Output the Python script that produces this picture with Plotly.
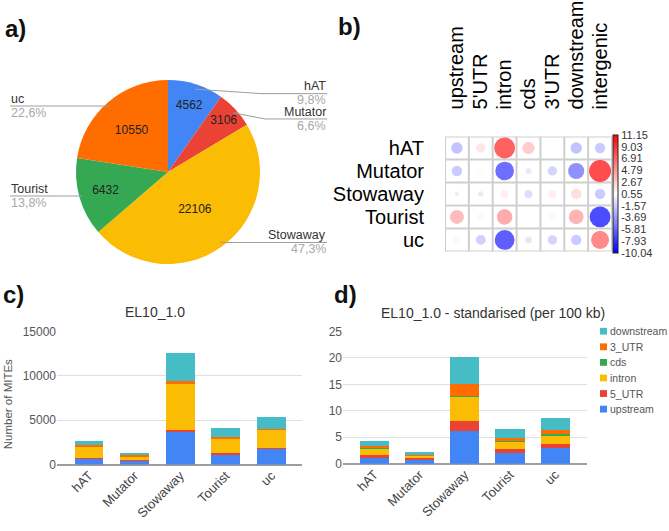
import numpy as np
import plotly.graph_objects as go

W, H = 669, 531
FONT = "Liberation Sans, Arial, sans-serif"


def fx(x):
    return x / W


def fy(y):
    return 1 - y / H


# ---------------- data ----------------
families = ["hAT", "Mutator", "Stowaway", "Tourist", "uc"]
pie_counts = [4562, 3106, 22106, 6432, 10550]
pie_colors = ["#4285F4", "#EA4335", "#FBBC04", "#34A853", "#FF6D01"]

regions = ["upstream", "5'UTR", "intron", "cds", "3'UTR", "downstream", "intergenic"]
cor_hAT = [-3.0, 2.0, 10.0, 3.5, 0.0, -3.0, -2.5]
cor_Mutator = [-2.5, 0.8, -8.0, -0.8, -2.0, -6.0, 11.15]
cor_Stowaway = [-0.5, -0.7, 1.5, -1.5, 1.5, 2.5, -2.5]
cor_Tourist = [4.5, 1.0, 5.5, 0.5, 1.0, 5.0, -10.04]
cor_uc = [1.0, -2.2, -9.0, -1.0, -2.0, -2.5, 7.5]
cor_rows = [cor_hAT, cor_Mutator, cor_Stowaway, cor_Tourist, cor_uc]
cbar_ticktext = ["-10.04", "-7.93", "-5.81", "-3.69", "-1.57", "0.55",
                 "2.67", "4.79", "6.91", "9.03", "11.15"]

bar_series = ["upstream", "5_UTR", "intron", "cds", "3_UTR", "downstream"]
bar_colors = ["#4285F4", "#EA4335", "#FBBC04", "#34A853", "#FF6D01", "#46BDC6"]
# panel c: number of MITEs
c_upstream = [700, 520, 3800, 1220, 1820]
c_5utr = [40, 30, 80, 40, 60]
c_intron = [1350, 420, 5300, 1760, 2080]
c_cds = [20, 10, 30, 10, 20]
c_3utr = [80, 50, 200, 60, 60]
c_downstream = [470, 320, 3130, 990, 1300]
# panel d: standardised per 100 kb
d_upstream = [1.15, 0.9, 6.1, 2.1, 3.05]
d_5utr = [0.5, 0.25, 2.0, 0.65, 0.75]
d_intron = [1.25, 0.5, 4.6, 1.5, 1.7]
d_cds = [0.05, 0.03, 0.1, 0.05, 0.05]
d_3utr = [0.4, 0.2, 2.35, 0.6, 0.8]
d_downstream = [1.0, 0.35, 5.1, 1.65, 2.3]

c_ticks = [0, 5000, 10000, 15000]
d_ticks = [0, 5, 10, 15, 20, 25]

fig = go.Figure()

# ---------------- a) pie ----------------
pcx, pcy, pr = 168, 169.5, 94.5
fig.add_trace(go.Pie(
    labels=families, values=pie_counts, sort=False, direction="clockwise",
    marker=dict(colors=pie_colors, line=dict(width=0)),
    text=[str(v) for v in pie_counts], textinfo="text",
    textposition="inside", insidetextorientation="horizontal",
    textfont=dict(size=12, color="#222", family=FONT),
    domain=dict(x=[fx(pcx - pr), fx(pcx + pr)], y=[fy(pcy + pr), fy(pcy - pr)]),
    showlegend=False, hoverinfo="label+value+percent",
))

total = sum(pie_counts)
cum = np.cumsum([0] + pie_counts)
label_geom = {  # side, label-line y, elbow x
    "hAT": ("right", 89, 262),
    "Mutator": ("right", 115, 265),
    "Stowaway": ("right", None, None),
    "Tourist": ("left", None, None),
    "uc": ("left", None, None),
}
shapes = []
annotations = []
for i, fam in enumerate(families):
    mid = (cum[i] + cum[i + 1]) / 2 / total * 2 * np.pi
    sx = pcx + 0.945 * pr * np.sin(mid)
    sy = pcy - 0.945 * pr * np.cos(mid)
    side, ly, ex = label_geom[fam]
    if ly is None:
        ly = sy
        ex = sx
    endx = 327 if side == "right" else 10
    path = f"M {fx(sx)} {fy(sy)} L {fx(ex)} {fy(ly)} L {fx(endx)} {fy(ly)}"
    shapes.append(dict(type="path", path=path, xref="paper", yref="paper",
                       line=dict(color="#9e9e9e", width=1)))
    anc = "right" if side == "right" else "left"
    pct = f"{100 * pie_counts[i] / total:.1f}%".replace(".", ",")
    annotations.append(dict(text=fam, x=fx(endx), y=fy(ly - 7.5), xref="paper", yref="paper",
                            xanchor=anc, yanchor="middle", showarrow=False, borderpad=0,
                            font=dict(size=12.5, color="#333", family=FONT)))
    annotations.append(dict(text=pct, x=fx(endx), y=fy(ly + 7), xref="paper", yref="paper",
                            xanchor=anc, yanchor="middle", showarrow=False, borderpad=0,
                            font=dict(size=12.5, color="#a8a8a8", family=FONT)))

# ---------------- b) correlation plot ----------------
cmin, cmax = -10.04, 11.15
vmax = max(abs(cmin), abs(cmax))
xs, ys, vs = [], [], []
for j, (fam, row) in enumerate(zip(families, cor_rows)):
    for k, (reg, v) in enumerate(zip(regions, row)):
        xs.append(k)
        ys.append(j)
        vs.append(v)
vs = np.array(vs)
sizes = 22 * np.sqrt(np.abs(vs) / vmax)
fig.add_trace(go.Scatter(
    x=xs, y=ys, mode="markers", xaxis="x2", yaxis="y2", showlegend=False,
    marker=dict(size=sizes, color=vs, cmin=cmin, cmax=cmax,
                colorscale=[[0, "#0000FF"], [0.5, "#FFFFFF"], [1, "#FF0000"]],
                line=dict(width=0),
                colorbar=dict(thickness=5, len=118, lenmode="pixels",
                              x=fx(613), xanchor="left", xpad=0,
                              y=fy(192), yanchor="middle", ypad=0,
                              outlinecolor="#222", outlinewidth=1,
                              tickvals=np.linspace(cmin, cmax, 11), ticktext=cbar_ticktext,
                              ticks="", tickfont=dict(size=11, color="#333", family=FONT))),
))
nx, ny = len(regions), len(families)
for k in range(nx + 1):
    shapes.append(dict(type="line", xref="x2", yref="y2", x0=k - 0.5, x1=k - 0.5,
                       y0=-0.5, y1=ny - 0.5, line=dict(color="#cfcfcf", width=2), layer="below"))
for k in range(ny + 1):
    shapes.append(dict(type="line", xref="x2", yref="y2", x0=-0.5, x1=nx - 0.5,
                       y0=k - 0.5, y1=k - 0.5, line=dict(color="#cfcfcf", width=2), layer="below"))

# ---------------- c) & d) stacked bars ----------------
c_vals = [c_upstream, c_5utr, c_intron, c_cds, c_3utr, c_downstream]
d_vals = [d_upstream, d_5utr, d_intron, d_cds, d_3utr, d_downstream]
for name, col, vals in zip(bar_series, bar_colors, c_vals):
    fig.add_trace(go.Bar(x=families, y=vals, name=name, marker=dict(color=col, line=dict(width=0)),
                         width=0.63, xaxis="x3", yaxis="y3", showlegend=False))
for name, col, vals in zip(bar_series, bar_colors, d_vals):
    fig.add_trace(go.Bar(x=families, y=vals, name=name, marker=dict(color=col, line=dict(width=0)),
                         width=0.65, xaxis="x4", yaxis="y4", showlegend=False))

# legend for d (drawn compactly, reversed order like the original)
for k, (name, col) in enumerate(reversed(list(zip(bar_series, bar_colors)))):
    yy = 333 + 16 * k
    shapes.append(dict(type="rect", xref="paper", yref="paper", x0=fx(600), x1=fx(607),
                       y0=fy(yy + 3.5), y1=fy(yy - 3.5), fillcolor=col, line=dict(width=0)))
    annotations.append(dict(text=name, x=fx(609), y=fy(yy), xref="paper", yref="paper",
                            xanchor="left", yanchor="middle", showarrow=False, borderpad=0,
                            font=dict(size=10.5, color="#555", family=FONT)))

annotations += [
    dict(text="EL10_1.0", x=fx(155), y=fy(313), xref="paper", yref="paper", xanchor="center",
         yanchor="middle", showarrow=False, font=dict(size=14, color="#333", family=FONT)),
    dict(text="EL10_1.0 - standarised (per 100 kb)", x=fx(493), y=fy(314), xref="paper",
         yref="paper", xanchor="center", yanchor="middle", showarrow=False,
         font=dict(size=14, color="#333", family=FONT)),
    dict(text="Number of MITEs", x=fx(8), y=fy(408), xref="paper", yref="paper", textangle=-90,
         xanchor="center", yanchor="middle", showarrow=False,
         font=dict(size=11.5, color="#555", family=FONT)),
]
for lab, x, y in [("a)", 3, 6), ("b)", 336, 4), ("c)", 1, 279), ("d)", 332, 279)]:
    annotations.append(dict(text=f"<b>{lab}</b>", x=fx(x), y=fy(y), xref="paper", yref="paper",
                            xanchor="left", yanchor="top", showarrow=False,
                            font=dict(size=24, color="#111", family=FONT)))

bar_x_common = dict(type="category", showgrid=False, ticks="", tickangle=-45,
                    tickfont=dict(size=13, color="#444", family=FONT),
                    showline=False, zeroline=False)
bar_y_common = dict(showgrid=True, gridcolor="#e0e0e0", gridwidth=1, zeroline=True,
                    zerolinecolor="#9e9e9e", zerolinewidth=1.5, ticks="", tickformat="d",
                    tickfont=dict(size=12, color="#555", family=FONT), showline=False)

fig.update_layout(
    width=W, height=H, autosize=False,
    margin=dict(l=0, r=0, t=0, b=0),
    paper_bgcolor="white", plot_bgcolor="white",
    font=dict(family=FONT),
    barmode="stack", showlegend=False,
    shapes=shapes, annotations=annotations,
    uniformtext=dict(minsize=12, mode="show"),
    xaxis2=dict(domain=[fx(445), fx(612)], range=[-0.5, nx - 0.5], side="top", tickangle=-90,
                tickmode="array", tickvals=list(range(nx)), ticktext=regions,
                showgrid=False, zeroline=False,
                ticks="outside", ticklen=22, tickcolor="rgba(0,0,0,0)",
                tickfont=dict(size=20, color="#000", family=FONT), anchor="y2"),
    yaxis2=dict(domain=[fy(251), fy(133)], range=[ny - 0.5, -0.5],
                tickmode="array", tickvals=list(range(ny)), ticktext=families,
                showgrid=False, zeroline=False,
                ticks="outside", ticklen=16, tickcolor="rgba(0,0,0,0)",
                tickfont=dict(size=20, color="#000", family=FONT), anchor="x2"),
    xaxis3=dict(domain=[fx(57), fx(302)], range=[-0.70, 4.67], anchor="y3", **bar_x_common),
    yaxis3=dict(domain=[fy(470), fy(333.3)], range=[0, 15000], tickvals=c_ticks, anchor="x3",
                **bar_y_common),
    xaxis4=dict(domain=[fx(343), fx(587)], range=[-0.69, 4.70], anchor="y4", **bar_x_common),
    yaxis4=dict(domain=[fy(469), fy(333.3)], range=[0, 25], tickvals=d_ticks, anchor="x4",
                **bar_y_common),
)

fig.write_html("out.html")
